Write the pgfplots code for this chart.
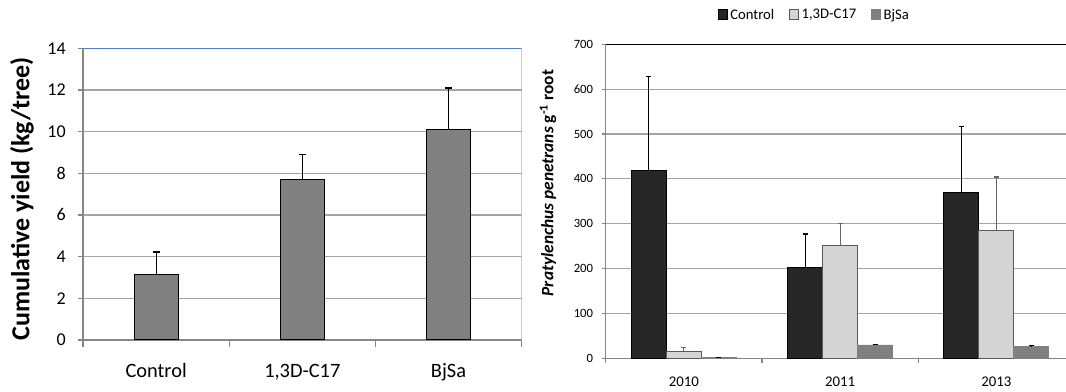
\documentclass[border=0pt]{standalone}
\usepackage{pgfplots}
\pgfplotsset{compat=1.18}
\usepackage{fontspec}
\setmainfont{Carlito}
\definecolor{gridgray}{RGB}{165,165,165}
\definecolor{axgray}{RGB}{134,134,134}
\definecolor{barg}{RGB}{128,128,128}
\definecolor{bordblue}{RGB}{79,129,189}
\definecolor{bordblue2}{RGB}{150,185,225}
\definecolor{darkbar}{RGB}{38,38,38}
\definecolor{lightbar}{RGB}{212,212,212}
\begin{document}
\begin{tikzpicture}
\useasboundingbox (0,0) rectangle (799.5pt,294pt);
% ---------------- left chart
\begin{axis}[
  at={(62.25pt,39pt)}, anchor=south west,
  scale only axis, width=329pt, height=218.8pt,
  xmin=-0.5, xmax=2.5, ymin=0, ymax=14,
  axis x line*=bottom, axis y line*=left,
  axis line style={axgray, line width=0.9pt},
  xtick={0,1,2}, xticklabels={Control,{1,3D-C17},BjSa},
  minor xtick={-0.5,0.5,1.5,2.5},
  major x tick style={draw=none},
  minor x tick style={axgray, line width=0.9pt},
  ytick style={axgray, line width=0.9pt},
  major tick length=3.75pt, minor tick length=5pt,
  tick align=outside,
  ytick={0,2,...,14},
  ymajorgrids, grid style={gridgray, line width=0.9pt},
  /pgf/number format/assume math mode=true,
  yticklabel style={font=\fontsize{13.5}{14}\selectfont, anchor=east, inner sep=0pt, xshift=-9pt},
  xticklabel style={font=\fontsize{15.3}{16}\selectfont, anchor=base, inner sep=0pt, yshift=-24.5pt},
  ylabel={\bfseries Cumulative yield (kg/tree)},
  ylabel style={font=\fontsize{19.5}{20}\selectfont, at={(axis description cs:-0.139,0.483)}, anchor=center},
  ybar, bar width=33pt,
]
\addplot[fill=barg, draw=black, line width=0.75pt,
  error bars/.cd, y dir=plus, y explicit, error mark=|,
  error bar style={black, line width=0.75pt},
  error mark options={black, mark size=2.6pt, line width=0.9pt}]
  coordinates {(0,3.12) +- (0,1.10) (1,7.72) +- (0,1.18) (2,10.12) +- (0,1.97)};
\draw[bordblue, line width=0.9pt] (rel axis cs:0,1) -- (rel axis cs:1,1);
\draw[bordblue2, line width=1pt] (rel axis cs:1,1) -- (rel axis cs:1,0);
\end{axis}
% ---------------- right chart
\begin{axis}[
  at={(454.3pt,25.3pt)}, anchor=south west,
  scale only axis, width=351.5pt, height=235.5pt,
  xmin=-0.5, xmax=2.5, ymin=0, ymax=700,
  axis x line*=bottom, axis y line*=left,
  axis line style={axgray, line width=0.9pt},
  xtick={0,1,2}, xticklabels={2010,2011,2013},
  minor xtick={-0.5,0.5,1.5,2.5},
  major x tick style={draw=none},
  minor x tick style={axgray, line width=0.9pt},
  ytick style={axgray, line width=0.9pt},
  major tick length=3pt, minor tick length=3.5pt,
  tick align=outside,
  ytick={0,100,...,700},
  ymajorgrids, grid style={gridgray, line width=0.9pt},
  /pgf/number format/assume math mode=true,
  yticklabel style={font=\fontsize{9.5}{10}\selectfont, anchor=east, inner sep=0pt, xshift=-6.3pt},
  xticklabel style={font=\fontsize{11.1}{12}\selectfont, anchor=base, inner sep=0pt, yshift=-18pt},
  ylabel={\bfseries\itshape Pratylenchus penetrans\/ \upshape g\textsuperscript{-1} root},
  ylabel style={font=\fontsize{13}{14}\selectfont, at={(axis description cs:-0.123,0.558)}, anchor=center},
  ybar=0pt, bar width=26.25pt,
  legend columns=3,
  legend style={draw=none, fill=none, at={(axis description cs:0.4456,1.0933)}, anchor=center,
    font=\fontsize{11}{12}\selectfont,
    /tikz/every even column/.append style={column sep=9pt}},
  legend image code/.code={\draw[#1, line width=0.5pt] (0pt,-3pt) rectangle (7pt,4pt);},
]
\addplot[fill=darkbar, draw=black, line width=0.6pt,
  error bars/.cd, y dir=plus, y explicit, error mark=|,
  error bar style={black, line width=0.6pt},
  error mark options={black, mark size=1.9pt, line width=0.9pt}]
  coordinates {(0,418) +- (0,210) (1,202) +- (0,75) (2,369) +- (0,147)};
\addlegendentry{Control}
\addplot[fill=lightbar, draw=black!65, line width=0.6pt,
  error bars/.cd, y dir=plus, y explicit, error mark=|,
  error bar style={black!60, line width=0.6pt},
  error mark options={black!60, mark size=1.9pt, line width=0.9pt}]
  coordinates {(0,15) +- (0,9.5) (1,252) +- (0,48.5) (2,284) +- (0,120)};
\addlegendentry{1,3D-C17}
\addplot[fill=barg, draw=barg, line width=0.6pt,
  error bars/.cd, y dir=plus, y explicit, error mark=|,
  error bar style={black, line width=0.6pt},
  error mark options={black, mark size=1.9pt, line width=0.9pt}]
  coordinates {(0,1) +- (0,1.5) (1,29.7) +- (0,1.5) (2,26.7) +- (0,1.5)};
\addlegendentry{BjSa}
\draw[black, line width=1.1pt] (rel axis cs:0,1) -- (rel axis cs:1,1);
\end{axis}
\end{tikzpicture}
\end{document}
